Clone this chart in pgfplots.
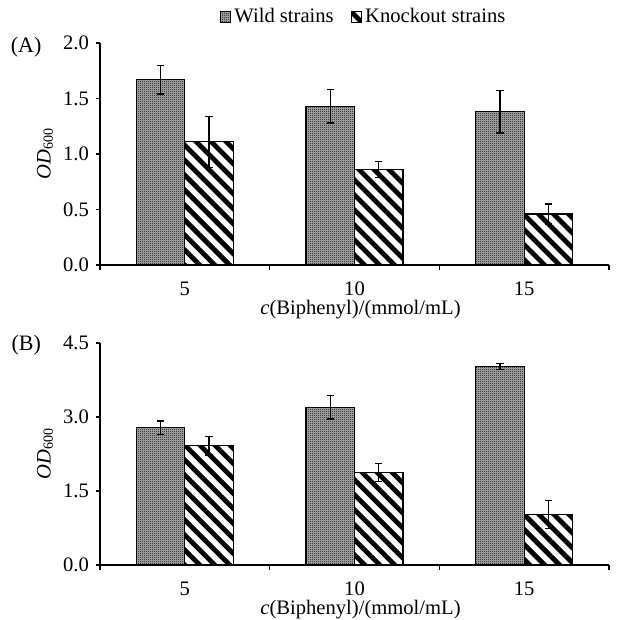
\documentclass[border=0pt]{standalone}
\usepackage{fontspec}
\setmainfont{Liberation Serif}
\usepackage{pgfplots}
\pgfplotsset{compat=1.18}
\usepackage{pgfplotstable}
\usetikzlibrary{patterns,patterns.meta}

\pgfdeclarepatternformonly{checker}{\pgfpointorigin}{\pgfpoint{1pt}{1pt}}{\pgfpoint{1pt}{1pt}}{%
  \pgfpathrectangle{\pgfpointorigin}{\pgfpoint{0.5pt}{0.5pt}}%
  \pgfpathrectangle{\pgfpoint{0.5pt}{0.5pt}}{\pgfpoint{0.5pt}{0.5pt}}%
  \pgfusepath{fill}}

\pgfplotstableread{
x y e
1 1.67 0.13
2 1.43 0.15
3 1.38 0.19
}\AWild
\pgfplotstableread{
x y e
1 1.11 0.23
2 0.86 0.07
3 0.46 0.09
}\AKo
\pgfplotstableread{
x y e
1 2.78 0.14
2 3.20 0.24
3 4.02 0.06
}\BWild
\pgfplotstableread{
x y e
1 2.42 0.19
2 1.88 0.18
3 1.02 0.28
}\BKo

\pgfplotsset{
  myax/.style={
    scale only axis, width=254.5pt, height=111pt,
    font=\fontsize{10.3}{12}\selectfont,
    xmin=0.5, xmax=3.5, ymin=0,
    axis x line*=bottom, axis y line*=left,
    axis line style={line width=0.6pt,-},
    xtick={1,2,3}, xticklabels={5,10,15},
    minor xtick={0.5,1.5,2.5,3.5},
    major x tick style={draw=none},
    tick align=outside, major tick length=2pt, minor tick length=2.5pt,
    tick style={black,line width=0.6pt},
    /pgf/number format/assume math mode=true,
    yticklabel style={/pgf/number format/.cd,fixed,fixed zerofill,precision=1},
    xticklabel style={anchor=center,yshift=-10pt},
    ybar=0pt, bar width=24.25pt,
    clip=false,
    xlabel={\textit{c}(Biphenyl)/(mmol/mL)},
    xlabel style={at={(axis description cs:0.5,0)},anchor=center,yshift=-22.5pt,xshift=3pt},
    ylabel={\textit{OD}{\fontsize{7}{8}\selectfont\raisebox{-0.35ex}{600}}},
    ylabel style={at={(axis description cs:-0.108,0.5)},anchor=center},
    legend image code/.code={\draw[##1,line width=0.5pt] (0pt,-2.6pt) rectangle (5.2pt,2.6pt);},
  },
  wild/.style={draw=black,line width=0.6pt,fill=black!30,postaction={pattern=checker,pattern color=black},
    error bars/.cd,y dir=both,y explicit,
    error bar style={line width=0.6pt,black,solid},
    error mark options={rotate=90,mark size=1.8pt,line width=0.6pt,black}},
  ko/.style={draw=black,line width=0.6pt,pattern={Lines[angle=-45,distance=5.3pt,line width=2.4pt]},pattern color=black,
    error bars/.cd,y dir=both,y explicit,
    error bar style={line width=0.6pt,black,solid},
    error mark options={rotate=90,mark size=1.8pt,line width=0.6pt,black}},
}

\begin{document}
\begin{tikzpicture}
\begin{axis}[myax, at={(0,0)}, anchor=south west,
    ymax=2, ytick={0,0.5,1,1.5,2},
    legend style={at={(0.519,1.117)},anchor=center,draw=none,fill=none,
      legend columns=2,inner sep=0pt,
      /tikz/every even column/.append style={column sep=7pt},
      nodes={inner xsep=1.5pt,inner ysep=1pt}}]
  \addplot[wild] table[x=x,y=y,y error=e]{\AWild};
  \addlegendentry{Wild strains}
  \addplot[ko] table[x=x,y=y,y error=e]{\AKo};
  \addlegendentry{Knockout strains}
  \node[anchor=center,font=\fontsize{11}{12}\selectfont] at (rel axis cs:-0.145,0.98) {(A)};
\end{axis}
\begin{axis}[myax, at={(0,-150pt)}, anchor=south west,
    ymax=4.5, ytick={0,1.5,3,4.5}]
  \addplot[wild] table[x=x,y=y,y error=e]{\BWild};
  \addplot[ko] table[x=x,y=y,y error=e]{\BKo};
  \node[anchor=center,font=\fontsize{11}{12}\selectfont] at (rel axis cs:-0.145,0.99) {(B)};
\end{axis}
\pgfresetboundingbox
\path (-50pt,132.5pt) rectangle (259.5pt,-177.5pt);
\end{tikzpicture}
\end{document}
